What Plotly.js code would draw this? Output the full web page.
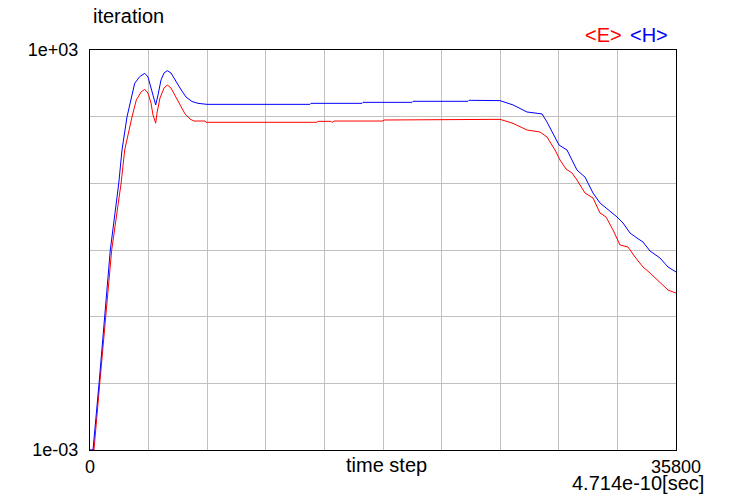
<!DOCTYPE html>
<html><head><meta charset="utf-8">
<script src="https://cdn.plot.ly/plotly-3.0.1.min.js"></script>
<style>html,body{margin:0;padding:0;background:#fff;}#chart{width:750px;height:500px;}</style>
</head><body><div id="chart"></div>
<script>
// time step values and series (log scale values)
const stepH = [0,183,550,898,1240,1753,1955,2260,2566,2731,3036,3342,3543,3727,3879,4014,4154,4338,4521,4722,4948,5193,5498,5865,6231,6598,7148,13440,13501,16617,16678,19672,19733,23093,23154,25048,25842,26697,27614,27919,28286,28652,29141,29446,29752,30241,30729,31157,31523,32195,32562,32990,33417,33784,34212,34822,35311,35800];
const H = [0.001,0.001,0.0098,0.099,1.0,9.8,31.6,99,211,316,398,447,394,279,197,150,211,355,452,490,452,355,269,197,169,158.5,153,153,158.5,158.5,164,164,170,170,176,174,150,117.5,110,83,57,37.6,31.6,22.4,15.8,12.4,7.16,5.07,4.27,3.13,2.54,1.80,1.51,1.32,0.966,0.759,0.556,0.468];
const stepE = [0,244,593,959,1326,1894,2120,2566,2829,3134,3342,3543,3727,3849,4014,4093,4276,4521,4722,4948,5193,5498,5804,6109,6354,7026,7087,13868,13929,14723,14784,14906,17900,17961,20893,20955,25048,25842,26697,27491,27919,28408,28713,29080,29446,29752,30241,30729,31157,31523,31951,32379,32868,33295,33784,34212,34822,35311,35800];
const E = [0.001,0.001,0.0098,0.099,1.0,9.8,31.6,99,178,237,257,226,160,106,80,113.5,190.5,269,298.5,269,211,150,110,92,86,86,82.3,82.3,85.1,85.1,81.8,86,86,89.1,89.1,91.2,91.2,79.4,63.1,58.9,49.5,31.6,22.4,16.4,14.3,11.2,7.16,6.03,3.59,3.13,2.0,1.19,1.11,0.785,0.556,0.452,0.331,0.251,0.226];
const xTickVals = [0,3580,7160,10740,14320,17900,21480,25060,28640,32220,35800];
const xTickText = ['0','','','','','','','','','','35800'];
const yTickVals = [0.001,0.01,0.1,1,10,100,1000];
const yTickText = ['1e-03','','','','','','1e+03'];
const seriesNames = ['<E>','<H>'];

const font = 'Liberation Sans, Arial, sans-serif';
const traces = [
  {x: stepE, y: E, mode:'lines', line:{color:'#ff0000', width:1}, name: seriesNames[0]},
  {x: stepH, y: H, mode:'lines', line:{color:'#0000ff', width:1}, name: seriesNames[1]}
];
const layout = {
  width:750, height:500,
  margin:{l:90, r:74, t:50, b:50, pad:0},
  paper_bgcolor:'#fff', plot_bgcolor:'#fff',
  showlegend:false,
  font:{family:font, size:18, color:'#000'},
  xaxis:{range:[0,35800], tickmode:'array', tickvals:xTickVals, ticktext:xTickText,
    showgrid:true, gridcolor:'#c0c0c0', gridwidth:1, zeroline:false,
    showline:true, linecolor:'#000', linewidth:1, mirror:true, ticks:'', ticklabelstandoff:0,
    tickfont:{family:font, size:18}},
  yaxis:{type:'log', range:[-3,3], tickmode:'array', tickvals:yTickVals, ticktext:yTickText,
    showgrid:true, gridcolor:'#c0c0c0', gridwidth:1, zeroline:false,
    showline:true, linecolor:'#000', linewidth:1, mirror:true, ticks:'', ticklabelstandoff:7,
    tickfont:{family:font, size:18}},
  annotations:[
    {text:'iteration', xref:'paper', yref:'paper', x:0, y:1.0, xshift:1, yshift:34, xanchor:'left', yanchor:'middle', showarrow:false, font:{family:font,size:20,color:'#000'}},
    {text:'time step', xref:'paper', yref:'paper', x:0.5, y:0, xshift:3, yshift:-15, xanchor:'center', yanchor:'middle', showarrow:false, font:{family:font,size:20,color:'#000'}},
    {text:'4.714e-10[sec]', xref:'paper', yref:'paper', x:1.0, y:0, xshift:30, yshift:-33, xanchor:'right', yanchor:'middle', showarrow:false, font:{family:font,size:20,color:'#000'}},
    {text:'&lt;E&gt;', xref:'paper', yref:'paper', x:1.0, y:1.0, xshift:-52, yshift:15, xanchor:'right', yanchor:'middle', showarrow:false, font:{family:font,size:20,color:'#ff0000'}},
    {text:'&lt;H&gt;', xref:'paper', yref:'paper', x:1.0, y:1.0, xshift:-6, yshift:15, xanchor:'right', yanchor:'middle', showarrow:false, font:{family:font,size:20,color:'#0000ff'}}
  ]
};
Plotly.newPlot('chart', traces, layout, {displayModeBar:false, staticPlot:true});
</script></body></html>
